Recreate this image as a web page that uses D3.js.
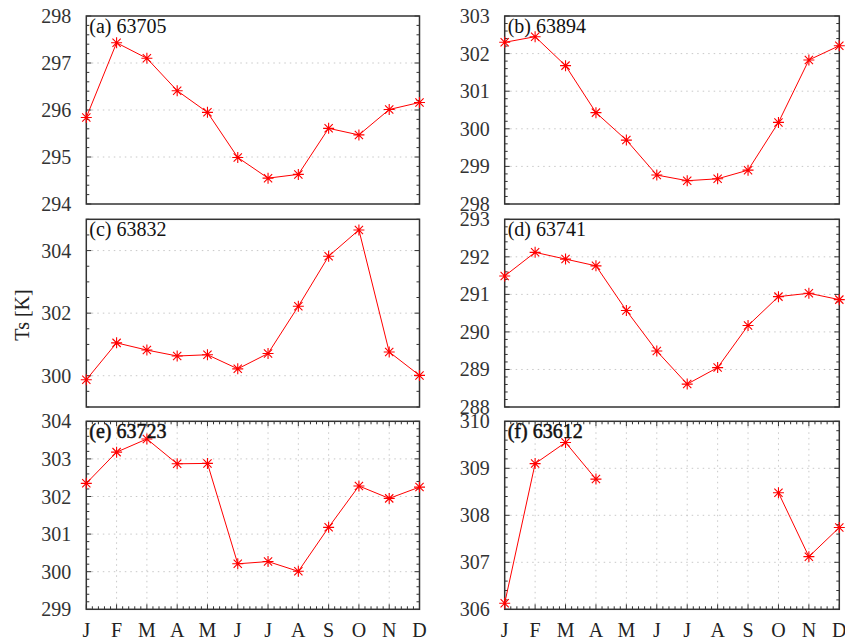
<!DOCTYPE html>
<html>
<head>
<meta charset="utf-8">
<script src="https://cdn.jsdelivr.net/npm/d3@7"></script>
<style>
  body { margin: 0; background: #fff; }
  svg { font-family: "Liberation Serif", "DejaVu Serif", serif; }
</style>
</head>
<body>
<script>
// month labels on the bottom row
const months = ["J", "F", "M", "A", "M", "J", "J", "A", "S", "O", "N", "D"];

// station ids and panel letters
const stations = ["63705", "63894", "63832", "63741", "63723", "63612"];
const letters = ["a", "b", "c", "d", "e", "f"];

// monthly surface temperature (K), null = no data
const ts63705 = [295.84, 297.43, 297.10, 296.41, 295.95, 294.99, 294.55, 294.63, 295.61, 295.47, 296.01, 296.16];
const ts63894 = [302.30, 302.45, 301.68, 300.43, 299.70, 298.77, 298.62, 298.67, 298.90, 300.17, 301.83, 302.21];
const ts63832 = [299.87, 301.05, 300.82, 300.63, 300.67, 300.22, 300.71, 302.22, 303.82, 304.66, 300.76, 300.01];
const ts63741 = [291.49, 292.12, 291.94, 291.76, 290.57, 289.49, 288.61, 289.05, 290.17, 290.94, 291.03, 290.86];
const ts63723 = [302.35, 303.18, 303.53, 302.87, 302.88, 300.21, 300.27, 300.01, 301.18, 302.28, 301.95, 302.25];
const ts63612 = [306.13, 309.10, 309.55, 308.77, null, null, null, null, null, 308.48, 307.12, 307.74];

// y ranges and tick steps per panel
const yDomains = [[294, 298], [298, 303], [299, 305], [288, 293], [299, 304], [306, 310]];
const yMajor = [1, 1, 2, 1, 1, 1];
const yMinor = [0.2, 0.2, 0.5, 0.2, 0.2, 0.2];

const series = [ts63705, ts63894, ts63832, ts63741, ts63723, ts63612];

const width = 845, height = 642;
const colLeft = [86.3, 504.7], colRight = [419.5, 839.3];
const rowTop = [16, 219.3, 421.3], rowBottom = [204, 407, 609.3];
const red = "#ff0000";
const frameColor = "#333";
const gridColor = "#c8c8c8";

const svg = d3.select("body").append("svg")
  .attr("width", width)
  .attr("height", height);

// y axis title
svg.append("text")
  .attr("transform", "translate(29,315) rotate(-90)")
  .attr("text-anchor", "middle")
  .attr("font-size", 20)
  .attr("fill", "#222")
  .text("Ts [K]");

// multiples of step inside [lo, hi]
function ticksBetween(lo, hi, step) {
  const out = [];
  const a = Math.ceil(lo / step - 1e-6), b = Math.floor(hi / step + 1e-6);
  for (let i = a; i <= b; i++) out.push(+(i * step).toFixed(4));
  return out;
}

series.forEach((vals, i) => {
  const col = i % 2, row = Math.floor(i / 2);
  const x0 = colLeft[col], x1 = colRight[col];
  const y0 = rowTop[row], y1 = rowBottom[row];
  const bottomRow = row === 2;

  const x = d3.scaleLinear().domain([0, 11]).range([x0, x1]);
  const y = d3.scaleLinear().domain(yDomains[i]).range([y1, y0]);

  const g = svg.append("g");
  const majors = ticksBetween(yDomains[i][0], yDomains[i][1], yMajor[i]);
  const minors = ticksBetween(yDomains[i][0], yDomains[i][1], yMinor[i]);

  // horizontal grid
  g.selectAll(".hgrid")
    .data(majors.filter(v => v > yDomains[i][0] && v < yDomains[i][1]))
    .enter().append("line")
      .attr("x1", x0).attr("x2", x1)
      .attr("y1", d => y(d)).attr("y2", d => y(d))
      .attr("stroke", gridColor)
      .attr("stroke-width", 1)
      .attr("stroke-dasharray", "1.5,4");

  // vertical grid only on the bottom row
  if (bottomRow) {
    g.selectAll(".vgrid")
      .data(d3.range(1, 11))
      .enter().append("line")
        .attr("x1", d => x(d)).attr("x2", d => x(d))
        .attr("y1", y0).attr("y2", y1)
        .attr("stroke", gridColor)
        .attr("stroke-width", 1)
        .attr("stroke-dasharray", "1.5,4");
  }

  // y ticks, both sides
  minors.forEach(v => {
    const isMajor = majors.some(m => Math.abs(m - v) < 1e-6);
    const len = isMajor ? 5 : 3;
    g.append("line").attr("x1", x0).attr("x2", x0 + len)
      .attr("y1", y(v)).attr("y2", y(v))
      .attr("stroke", frameColor).attr("stroke-width", 1);
    g.append("line").attr("x1", x1).attr("x2", x1 - len)
      .attr("y1", y(v)).attr("y2", y(v))
      .attr("stroke", frameColor).attr("stroke-width", 1);
  });

  // x ticks on bottom row, top and bottom borders
  if (bottomRow) {
    ticksBetween(0, 11, 0.2).forEach(v => {
      const isMajor = Math.abs(v - Math.round(v)) < 1e-6;
      const len = isMajor ? 5 : 3;
      g.append("line").attr("x1", x(v)).attr("x2", x(v))
        .attr("y1", y1).attr("y2", y1 - len)
        .attr("stroke", frameColor).attr("stroke-width", 1);
      g.append("line").attr("x1", x(v)).attr("x2", x(v))
        .attr("y1", y0).attr("y2", y0 + len)
        .attr("stroke", frameColor).attr("stroke-width", 1);
    });
    g.selectAll(".mlab")
      .data(months)
      .enter().append("text")
        .attr("x", (d, k) => x(k))
        .attr("y", 637)
        .attr("text-anchor", "middle")
        .attr("font-size", 20)
        .attr("fill", "#222")
        .text(d => d);
  }

  // frame
  g.append("rect")
    .attr("x", x0).attr("y", y0)
    .attr("width", x1 - x0).attr("height", y1 - y0)
    .attr("fill", "none")
    .attr("stroke", frameColor)
    .attr("stroke-width", 1.5);

  // y tick labels
  g.selectAll(".ylab")
    .data(majors)
    .enter().append("text")
      .attr("x", x0 - 15)
      .attr("y", d => y(d) + 7)
      .attr("text-anchor", "end")
      .attr("font-size", 20)
      .attr("fill", "#333")
      .text(d => d);

  // data line
  const line = d3.line()
    .defined(d => d != null)
    .x((d, k) => x(k))
    .y(d => y(d));
  g.append("path")
    .datum(vals)
    .attr("d", line)
    .attr("fill", "none")
    .attr("stroke", red)
    .attr("stroke-width", 1);

  // asterisk markers
  const r = 5.5, rd = r * 0.75;
  g.selectAll(".pt")
    .data(vals.map((v, k) => ({ v, k })).filter(d => d.v != null))
    .enter().append("path")
      .attr("transform", d => `translate(${x(d.k)},${y(d.v)})`)
      .attr("d", `M${-r},0H${r}M0,${-r}V${r}M${-rd},${-rd}L${rd},${rd}M${-rd},${rd}L${rd},${-rd}`)
      .attr("stroke", red)
      .attr("stroke-width", 1.1)
      .attr("fill", "none");

  // panel label
  g.append("text")
    .attr("x", x0 + 3)
    .attr("y", y0 + 17)
    .attr("font-size", 20)
    .attr("fill", "#111")
    .attr("stroke", bottomRow ? "#111" : "none")
    .attr("stroke-width", bottomRow ? 0.5 : 0)
    .text(`(${letters[i]}) ${stations[i]}`);
});
</script>
</body>
</html>
